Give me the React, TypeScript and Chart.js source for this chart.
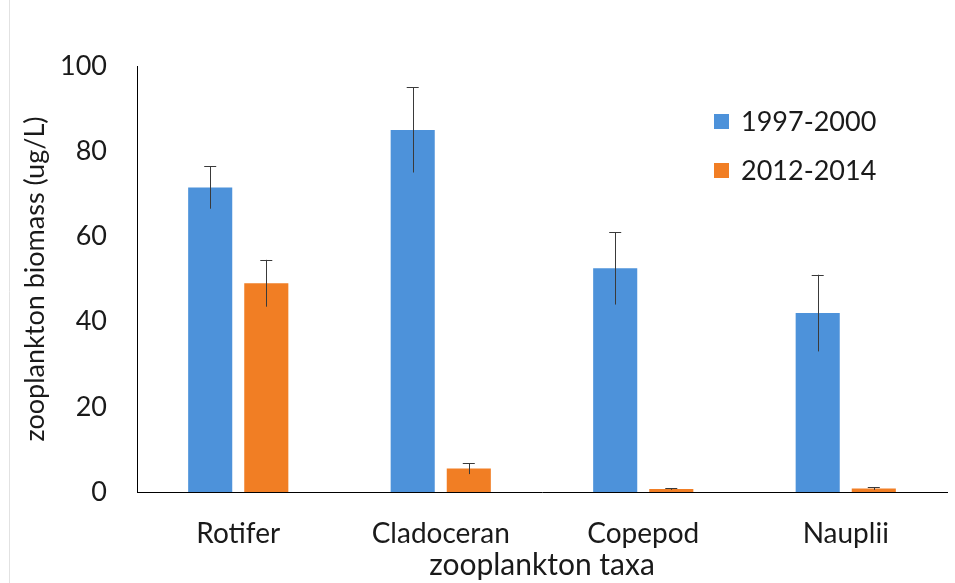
import React, { useEffect, useRef } from "react";
import { Chart, registerables } from "chart.js";

Chart.register(...registerables);

const categories = ["Rotifer", "Cladoceran", "Copepod", "Nauplii"];
const seriesNames = ["1997-2000", "2012-2014"];
const values1997 = [71.5, 85, 52.5, 42];
const errors1997 = [5, 10, 8.5, 9];
const values2012 = [49, 5.5, 0.7, 0.8];
const errors2012 = [5.5, 1.3, 0.2, 0.3];
const yTicks = [0, 20, 40, 60, 80, 100];

const BLUE = "#4D92DA";
const ORANGE = "#F17E24";
const FONT = "Lato";
const TEXT = "#1a1a1a";

const errorBarPlugin = {
  id: "errorBars",
  afterDatasetsDraw(chart: any) {
    const ctx = chart.ctx;
    const y = chart.scales.y;
    const errs = [errors1997, errors2012];
    chart.data.datasets.forEach((ds: any, di: number) => {
      const meta = chart.getDatasetMeta(di);
      meta.data.forEach((el: any, i: number) => {
        const v = ds.data[i];
        const e = errs[di][i];
        const top = y.getPixelForValue(v + e);
        const bot = y.getPixelForValue(Math.max(0, v - e));
        ctx.save();
        ctx.strokeStyle = "#3a3a3a";
        ctx.lineWidth = 1;
        ctx.beginPath();
        ctx.moveTo(Math.round(el.x) + 0.5, top);
        ctx.lineTo(Math.round(el.x) + 0.5, bot);
        ctx.moveTo(el.x - 6, Math.round(top) + 0.5);
        ctx.lineTo(el.x + 6, Math.round(top) + 0.5);
        ctx.stroke();
        ctx.restore();
      });
    });
  },
};

const legendPlugin = {
  id: "customLegend",
  afterDraw(chart: any) {
    const ctx = chart.ctx;
    const colors = [BLUE, ORANGE];
    const rows = [121, 170];
    ctx.save();
    ctx.font = `27px ${FONT}`;
    ctx.textBaseline = "middle";
    ctx.textAlign = "left";
    seriesNames.forEach((name, i) => {
      ctx.fillStyle = colors[i];
      ctx.fillRect(714, rows[i] - 7, 15, 15);
      ctx.fillStyle = TEXT;
      ctx.fillText(name, 741, rows[i] + 1);
    });
    ctx.strokeStyle = "#e2e2e2";
    ctx.lineWidth = 1;
    ctx.beginPath();
    ctx.moveTo(9.5, 0);
    ctx.lineTo(9.5, 583);
    ctx.stroke();
    ctx.restore();
  },
};

export default function App() {
  const ref = useRef<HTMLCanvasElement>(null);
  useEffect(() => {
    if (!ref.current) return;
    const chart = new Chart(ref.current, {
      type: "bar",
      data: {
        labels: categories,
        datasets: [
          {
            label: seriesNames[0],
            data: values1997,
            backgroundColor: BLUE,
            categoryPercentage: 0.554,
            barPercentage: 0.786,
          },
          {
            label: seriesNames[1],
            data: values2012,
            backgroundColor: ORANGE,
            categoryPercentage: 0.554,
            barPercentage: 0.786,
          },
        ],
      },
      options: {
        responsive: false,
        devicePixelRatio: 1,
        animation: false,
        layout: { padding: { top: 66, right: 8, left: 0, bottom: 0 } },
        plugins: {
          legend: { display: false },
          tooltip: { enabled: false },
        },
        scales: {
          x: {
            grid: { display: false, drawTicks: false },
            border: { display: true, color: "#000", width: 1 },
            ticks: {
              font: { family: FONT, size: 28 },
              color: TEXT,
              padding: 25,
            },
            title: {
              display: true,
              text: "zooplankton taxa",
              font: { family: FONT, size: 30 },
              color: TEXT,
              padding: { top: 0, bottom: 0 },
            },
            afterFit(scale: any) {
              scale.height = 91;
            },
          },
          y: {
            min: 0,
            max: 100,
            afterBuildTicks(scale: any) {
              scale.ticks = yTicks.map((v) => ({ value: v }));
            },
            grid: { display: false, drawTicks: false },
            border: { display: true, color: "#000", width: 1 },
            ticks: {
              font: { family: FONT, size: 27 },
              color: TEXT,
              padding: 30,
            },
            title: {
              display: true,
              text: "zooplankton biomass (ug/L)",
              font: { family: FONT, size: 27 },
              color: TEXT,
              padding: { top: 19, bottom: 0 },
            },
            afterFit(scale: any) {
              scale.width = 137;
            },
          },
        },
      },
      plugins: [errorBarPlugin, legendPlugin],
    } as any);
    return () => chart.destroy();
  }, []);
  return (
    <div style={{ position: "absolute", left: 0, top: 0, width: 955, height: 583, background: "#fff" }}>
      <canvas ref={ref} width={955} height={583} />
    </div>
  );
}
